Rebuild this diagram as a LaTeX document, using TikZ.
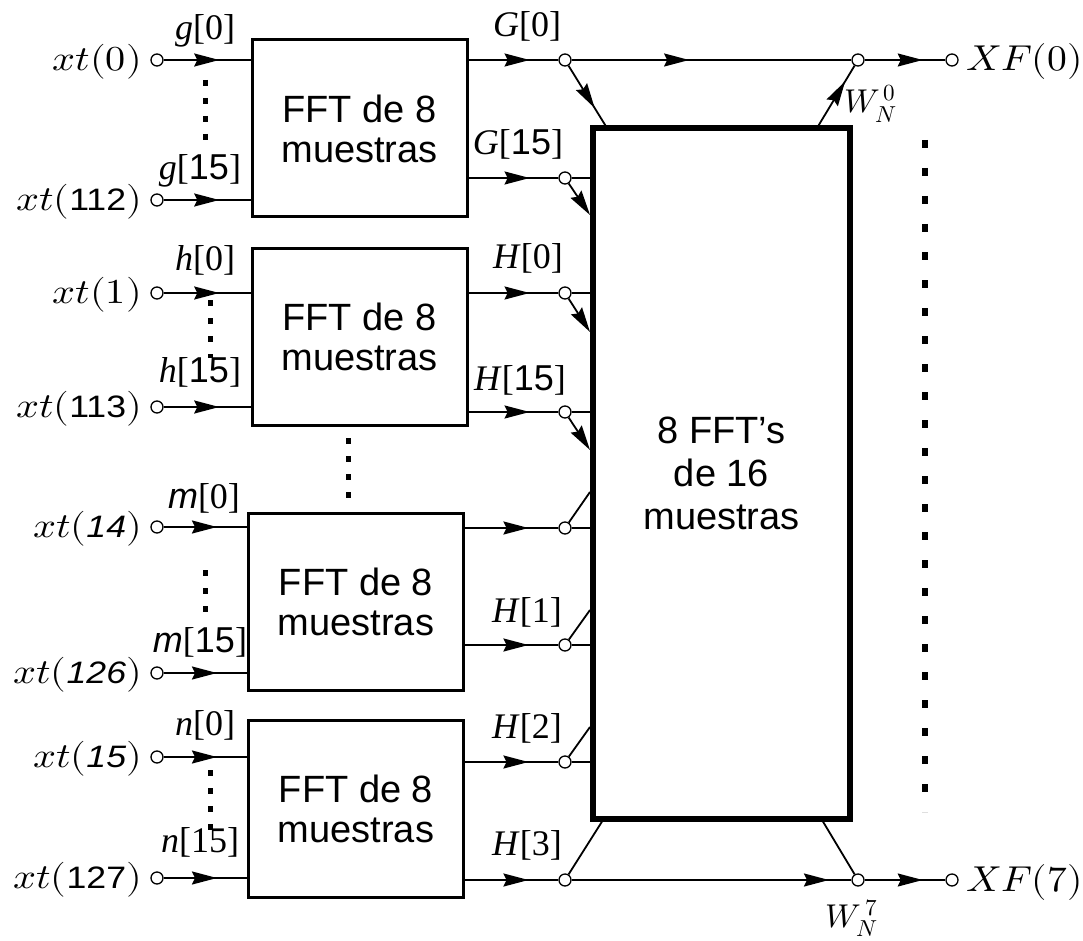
\documentclass[tikz,border=0pt]{standalone}
\usepackage{fontspec}
\usepackage{unicode-math}
\setmainfont{Liberation Serif}
\setsansfont{Liberation Sans}
\setmathfont{Latin Modern Math}
\usetikzlibrary{arrows.meta,decorations.markings}
\newcommand{\sdig}[1]{{\sffamily\fontsize{31}{36}\selectfont #1}}
\newcommand{\sidig}[1]{{\sffamily\itshape\fontsize{31}{36}\selectfont #1}}
\tikzset{
 port/.style={circle, draw, fill=white, inner sep=0pt, minimum size=12pt, line width=1.3pt},
 fftbox/.style={draw, line width=3pt, inner sep=0pt, minimum width=215pt, minimum height=177pt, font=\sffamily\fontsize{38}{40}\selectfont, align=center},
 bigbox/.style={draw, line width=6pt, inner sep=0pt, minimum width=257pt, minimum height=691pt, font=\sffamily\fontsize{38}{43}\selectfont, align=center},
 wire/.style={line width=1.8pt},
 midarr/.style={postaction=decorate, decoration={markings, mark=at position #1 with {\arrow{Stealth[length=25pt,width=13pt,inset=3pt]}}}},
 endarr/.style={-{Stealth[length=25pt,width=13pt,inset=3pt]}},
 dotline/.style={line width=5pt, dash pattern=on 6pt off 12pt},
 inlab/.style={font=\fontsize{35}{40}\selectfont, xscale=1.15, anchor=east, inner sep=0pt},
 outlab/.style={font=\fontsize{36}{40}\selectfont, xscale=1.1, anchor=west, inner sep=0pt},
 sig/.style={font=\fontsize{36}{40}\selectfont, anchor=base, inner sep=0pt},
 wlab/.style={font=\fontsize{33}{36}\selectfont, inner sep=0pt},
}
\begin{document}
\begin{tikzpicture}[x=1pt,y=-1pt]
\useasboundingbox (0,0) rectangle (1083,941);
% FFT boxes
\node[fftbox] (b1) at (359.5,128.5) {FFT de 8\\muestras};
\node[fftbox] (b2) at (359.5,336.5) {FFT de 8\\muestras};
\node[fftbox] (b3) at (356,601.5) {FFT de 8\\muestras};
\node[fftbox] (b4) at (356,808.5) {FFT de 8\\muestras};
\node[bigbox] (big) at (721.5,473.5) {8 FFT's\\de 16\\muestras};
% input ports
\node[port] (i1) at (157,60) {};
\node[port] (i2) at (157,200) {};
\node[port] (i3) at (157,293) {};
\node[port] (i4) at (157,407) {};
\node[port] (i5) at (157,527) {};
\node[port] (i6) at (157,673) {};
\node[port] (i7) at (157,757) {};
\node[port] (i8) at (157,878) {};
% input labels
\node[inlab] (l1) at (142,62) {$xt(0)$};
\node[inlab] (l2) at (142,202) {$xt($\sdig{112}$)$};
\node[inlab] (l3) at (142,295) {$xt(1)$};
\node[inlab] (l4) at (142,409) {$xt($\sdig{113}$)$};
\node[inlab] (l5) at (142,529) {$xt($\sidig{14}$)$};
\node[inlab] (l6) at (142,675) {$xt($\sidig{126}$)$};
\node[inlab] (l7) at (142,759) {$xt($\sidig{15}$)$};
\node[inlab] (l8) at (142,880) {$xt($\sdig{127}$)$};
% input wires
\foreach \i/\b in {1/b1,2/b1,3/b2,4/b2,5/b3,6/b3,7/b4,8/b4}
  \draw[wire, midarr=0.64] (i\i) -- (i\i -| \b.west);
% input signal labels
\node[sig] (s1) at (205,40) {\textit{g}[0]};
\node[sig] (s2) at (200,180) {\textit{g}[{\sffamily 15}]};
\node[sig] (s3) at (205,270) {\textit{h}[0]};
\node[sig] (s4) at (200,382) {\textit{h}[{\sffamily 15}]};
\node[sig] (s5) at (204,508) {{\sffamily\itshape m}[0]};
\node[sig] (s6) at (200,652) {{\sffamily\itshape m}[{\sffamily 15}]};
\node[sig] (s7) at (205,735) {\textit{n}[0]};
\node[sig] (s8) at (200,852) {\textit{n}[15]};
% output ports
\node[port] (o1) at (565,60) {};
\node[port] (o2) at (565,178) {};
\node[port] (o3) at (565,293) {};
\node[port] (o4) at (565,412) {};
\node[port] (o5) at (565,528) {};
\node[port] (o6) at (565,645) {};
\node[port] (o7) at (565,762) {};
\node[port] (o8) at (565,880) {};
\foreach \o/\b in {1/b1,2/b1,3/b2,4/b2,5/b3,6/b3,7/b4,8/b4}
  \draw[wire, midarr=0.68] (o\o -| \b.east) -- (o\o);
% output signal labels
\node[sig] (t1) at (527,37) {\textit{G}[0]};
\node[sig] (t2) at (518,155) {\textit{G}[{\sffamily 15}]};
\node[sig] (t3) at (528,268) {\textit{H}[0]};
\node[sig] (t4) at (520,390) {\textit{H}[{\sffamily 15}]};
\node[sig] (t6) at (527,622) {\textit{H}[1]};
\node[sig] (t7) at (527,738) {\textit{H}[2]};
\node[sig] (t8) at (527,855) {\textit{H}[3]};
% stubs into the big box
\foreach \o in {2,3,4,5,6,7}
  \draw[wire] (o\o) -- (o\o -| big.west);
% diagonals
\coordinate (d1) at (607,128);
\coordinate (d2) at (590,215);
\coordinate (d3) at (590,332);
\coordinate (d4) at (590,450);
\coordinate (d5) at (590,492);
\coordinate (d6) at (590,610);
\coordinate (d7) at (590,727);
\coordinate (d8) at (603,820);
\draw[wire, midarr=0.68] (o1) -- (d1);
\draw[wire, endarr] (o2) -- (d2);
\draw[wire, endarr] (o3) -- (d3);
\draw[wire, endarr] (o4) -- (d4);
\draw[wire] (o5) -- (d5);
\draw[wire] (o6) -- (d6);
\draw[wire] (o7) -- (d7);
\draw[wire] (o8) -- (d8);
% right side
\node[port] (r1) at (858,60) {};
\node[port] (r2) at (858,880) {};
\node[port] (x1) at (952,60) {};
\node[port] (x2) at (952,880) {};
\coordinate (u1) at (817,128);
\coordinate (u2) at (822,820);
\draw[wire, midarr=0.42] (o1) -- (r1);
\draw[wire, midarr=0.92] (o8) -- (r2);
\draw[wire, midarr=0.75] (u1) -- (r1);
\draw[wire] (u2) -- (r2);
\draw[wire, midarr=0.72] (r1) -- (x1);
\draw[wire, midarr=0.72] (r2) -- (x2);
\node[outlab] (X1) at (966,62) {$XF(0)$};
\node[outlab] (X2) at (966,882) {$XF(7)$};
\node[wlab, anchor=west] (w1) at (844,104) {$W_N^{\,0}$};
\node[wlab] (w2) at (852,918) {$W_N^{\,7}$};
% dotted continuation marks
\draw[dotline] (205,80) -- (205,150);
\draw[dotline] (210,300) -- (210,358);
\draw[dotline] (348,438) -- (348,504);
\draw[dotline] (205,570) -- (205,622);
\draw[dotline] (210,770) -- (210,836);
\draw[line width=6pt, dash pattern=on 8pt off 20pt] (925,140) -- (925,812);
\end{tikzpicture}
\end{document}
